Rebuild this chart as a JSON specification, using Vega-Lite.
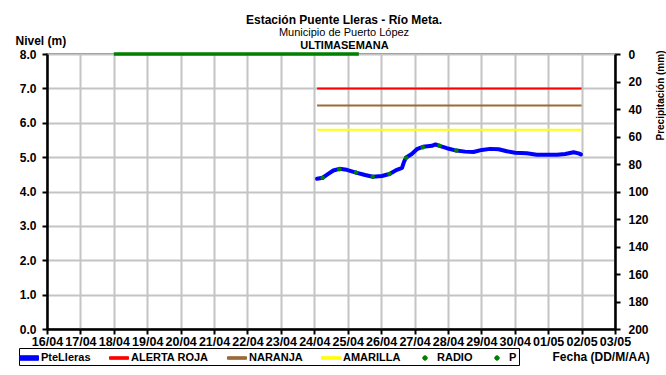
{
  "$schema": "https://vega.github.io/schema/vega-lite/v6.json",
  "width": 568,
  "height": 275,
  "autosize": {"type": "none"},
  "padding": {"left": 47, "top": 54, "right": 51, "bottom": 46},
  "background": "white",
  "title": {
    "text": "Estación Puente Lleras - Río Meta.",
    "subtitle": "Municipio de Puerto López",
    "anchor": "middle",
    "dx": 13,
    "dy": 7,
    "font": "Liberation Sans",
    "subtitleFont": "Liberation Sans",
    "fontSize": 12,
    "fontWeight": "bold",
    "color": "black",
    "subtitleFontSize": 11,
    "subtitleColor": "black",
    "subtitlePadding": 0,
    "offset": 2
  },
  "data": {
    "values": [
      {"s": "PteLleras", "t": "2014-04-24T02:00", "v": 4.37},
      {"s": "PteLleras", "t": "2014-04-24T06:00", "v": 4.40},
      {"s": "PteLleras", "t": "2014-04-24T10:00", "v": 4.51},
      {"s": "PteLleras", "t": "2014-04-24T13:40", "v": 4.61},
      {"s": "PteLleras", "t": "2014-04-24T18:00", "v": 4.66},
      {"s": "PteLleras", "t": "2014-04-24T23:20", "v": 4.63},
      {"s": "PteLleras", "t": "2014-04-25T06:00", "v": 4.55},
      {"s": "PteLleras", "t": "2014-04-25T12:30", "v": 4.48},
      {"s": "PteLleras", "t": "2014-04-25T18:00", "v": 4.43},
      {"s": "PteLleras", "t": "2014-04-26T00:30", "v": 4.45},
      {"s": "PteLleras", "t": "2014-04-26T06:00", "v": 4.51},
      {"s": "PteLleras", "t": "2014-04-26T11:20", "v": 4.63},
      {"s": "PteLleras", "t": "2014-04-26T15:00", "v": 4.69},
      {"s": "PteLleras", "t": "2014-04-26T16:30", "v": 4.87},
      {"s": "PteLleras", "t": "2014-04-26T18:00", "v": 4.99},
      {"s": "PteLleras", "t": "2014-04-26T22:00", "v": 5.09},
      {"s": "PteLleras", "t": "2014-04-27T01:40", "v": 5.23},
      {"s": "PteLleras", "t": "2014-04-27T06:00", "v": 5.30},
      {"s": "PteLleras", "t": "2014-04-27T12:30", "v": 5.33},
      {"s": "PteLleras", "t": "2014-04-27T15:00", "v": 5.37},
      {"s": "PteLleras", "t": "2014-04-27T18:30", "v": 5.32},
      {"s": "PteLleras", "t": "2014-04-27T23:15", "v": 5.26},
      {"s": "PteLleras", "t": "2014-04-28T06:00", "v": 5.19},
      {"s": "PteLleras", "t": "2014-04-28T12:20", "v": 5.16},
      {"s": "PteLleras", "t": "2014-04-28T18:20", "v": 5.15},
      {"s": "PteLleras", "t": "2014-04-29T00:15", "v": 5.21},
      {"s": "PteLleras", "t": "2014-04-29T06:20", "v": 5.24},
      {"s": "PteLleras", "t": "2014-04-29T12:20", "v": 5.23},
      {"s": "PteLleras", "t": "2014-04-29T18:20", "v": 5.17},
      {"s": "PteLleras", "t": "2014-04-30T00:15", "v": 5.13},
      {"s": "PteLleras", "t": "2014-04-30T08:40", "v": 5.11},
      {"s": "PteLleras", "t": "2014-04-30T15:50", "v": 5.07},
      {"s": "PteLleras", "t": "2014-04-30T23:00", "v": 5.07},
      {"s": "PteLleras", "t": "2014-05-01T06:20", "v": 5.07},
      {"s": "PteLleras", "t": "2014-05-01T12:15", "v": 5.09},
      {"s": "PteLleras", "t": "2014-05-01T18:15", "v": 5.14},
      {"s": "PteLleras", "t": "2014-05-01T21:50", "v": 5.11},
      {"s": "PteLleras", "t": "2014-05-01T23:30", "v": 5.08},
      {"s": "ALERTA ROJA", "t": "2014-04-24T02:00", "v": 7.0},
      {"s": "ALERTA ROJA", "t": "2014-05-02T00:00", "v": 7.0},
      {"s": "NARANJA", "t": "2014-04-24T02:00", "v": 6.5},
      {"s": "NARANJA", "t": "2014-05-02T00:00", "v": 6.5},
      {"s": "AMARILLA", "t": "2014-04-24T02:00", "v": 5.8},
      {"s": "AMARILLA", "t": "2014-05-02T00:00", "v": 5.8},
      {"s": "RADIO", "t": "2014-04-24T06:00", "v": 4.40},
      {"s": "RADIO", "t": "2014-04-24T18:00", "v": 4.65},
      {"s": "RADIO", "t": "2014-04-25T06:00", "v": 4.55},
      {"s": "RADIO", "t": "2014-04-25T18:00", "v": 4.43},
      {"s": "RADIO", "t": "2014-04-26T06:00", "v": 4.51},
      {"s": "RADIO", "t": "2014-04-26T18:00", "v": 4.98},
      {"s": "RADIO", "t": "2014-04-27T06:00", "v": 5.29},
      {"s": "RADIO", "t": "2014-04-27T18:00", "v": 5.33},
      {"s": "RADIO", "t": "2014-04-28T06:00", "v": 5.19},
      {"s": "P", "t": "2014-04-18T00:00", "v": 0},
      {"s": "P", "t": "2014-04-19T00:00", "v": 0},
      {"s": "P", "t": "2014-04-20T00:00", "v": 0},
      {"s": "P", "t": "2014-04-21T00:00", "v": 0},
      {"s": "P", "t": "2014-04-22T00:00", "v": 0},
      {"s": "P", "t": "2014-04-23T00:00", "v": 0},
      {"s": "P", "t": "2014-04-24T00:00", "v": 0},
      {"s": "P", "t": "2014-04-25T00:00", "v": 0},
      {"s": "P", "t": "2014-04-25T08:00", "v": 0}
    ]
  },
  "layer": [
    {
      "encoding": {
        "x": {
          "field": "t",
          "type": "temporal",
          "scale": {"domain": [{"year": 2014, "month": 4, "date": 16}, {"year": 2014, "month": 5, "date": 3}]},
          "axis": {
            "format": "%d/%m",
            "tickCount": {"interval": "day", "step": 1},
            "labelOverlap": false,
            "labelFlush": false,
            "labelBound": false,
            "labelAngle": 0,
            "labelPadding": 1,
            "labelFontSize": 12.5,
            "grid": true,
            "title": "Fecha (DD/M/AA)",
            "titleX": 505,
            "titleY": 31,
            "titleAlign": "left",
            "titleBaseline": "alphabetic"
          }
        },
        "y": {
          "field": "v",
          "type": "quantitative",
          "scale": {"domain": [0, 8]},
          "axis": {
            "values": [0, 1, 2, 3, 4, 5, 6, 7, 8],
            "format": ".1f",
            "labelPadding": 6,
            "grid": true,
            "title": "Nivel (m)",
            "titleAngle": 0,
            "titleX": -32,
            "titleY": -10,
            "titleAlign": "left",
            "titleBaseline": "alphabetic"
          }
        }
      },
      "layer": [
        {
          "transform": [{"filter": {"field": "s", "oneOf": ["ALERTA ROJA", "NARANJA", "AMARILLA"]}}],
          "mark": {"type": "line", "strokeWidth": 2},
          "encoding": {
            "color": {"field": "s", "type": "nominal",
              "scale": {"domain": ["PteLleras", "ALERTA ROJA", "NARANJA", "AMARILLA", "RADIO", "P"], "range": ["#0000ff", "#ff0000", "#9b6a38", "#ffff00", "#008000", "#008000"]},
              "legend": {"title": null, "orient": "none", "legendX": -28, "legendY": 294, "direction": "horizontal", "columns": 6}}
          }
        },
        {
          "transform": [{"filter": "datum.s == 'PteLleras'"}],
          "mark": {"type": "line", "strokeWidth": 4, "strokeCap": "round", "strokeJoin": "round"},
          "encoding": {
            "color": {"field": "s", "type": "nominal",
              "scale": {"domain": ["PteLleras", "ALERTA ROJA", "NARANJA", "AMARILLA", "RADIO", "P"], "range": ["#0000ff", "#ff0000", "#9b6a38", "#ffff00", "#008000", "#008000"]},
              "legend": {"title": null, "orient": "none", "legendX": -28, "legendY": 294, "direction": "horizontal", "columns": 6}}
          }
        },
        {
          "transform": [{"filter": "datum.s == 'RADIO'"}],
          "mark": {"type": "point", "filled": true, "opacity": 1, "size": 225, "strokeWidth": 0},
          "encoding": {
            "color": {"field": "s", "type": "nominal",
              "scale": {"domain": ["PteLleras", "ALERTA ROJA", "NARANJA", "AMARILLA", "RADIO", "P"], "range": ["#0000ff", "#ff0000", "#9b6a38", "#ffff00", "#008000", "#008000"]},
              "legend": {"title": null, "orient": "none", "legendX": -28, "legendY": 294, "direction": "horizontal", "columns": 6}},
            "shape": {"field": "s", "type": "nominal",
              "scale": {"domain": ["PteLleras", "ALERTA ROJA", "NARANJA", "AMARILLA", "RADIO", "P"],
                "range": ["M-1.27,-0.3H1.27V0.3H-1.27Z", "M-1.27,-0.17H1.27V0.17H-1.27Z", "M-1.27,-0.17H1.27V0.17H-1.27Z", "M-1.27,-0.17H1.27V0.17H-1.27Z", "M0,-0.3A0.3,0.3,0,1,1,0,0.3A0.3,0.3,0,1,1,0,-0.3Z", "M0,-0.3A0.3,0.3,0,1,1,0,0.3A0.3,0.3,0,1,1,0,-0.3Z"]},
              "legend": {"title": null, "orient": "none", "legendX": -28, "legendY": 294, "direction": "horizontal", "columns": 6}}
          }
        }
      ]
    },
    {
      "transform": [{"filter": "datum.s == 'P'"}],
      "mark": {"type": "line", "strokeWidth": 3.5},
      "encoding": {
        "x": {
          "field": "t",
          "type": "temporal",
          "scale": {"domain": [{"year": 2014, "month": 4, "date": 16}, {"year": 2014, "month": 5, "date": 3}]},
          "axis": {
            "orient": "top",
            "labels": false,
            "ticks": false,
            "domain": false,
            "grid": false,
            "title": "ULTIMASEMANA",
            "titleFontSize": 11,
            "titleX": 297,
            "titleY": -6,
            "titleAlign": "center",
            "titleBaseline": "alphabetic"
          }
        },
        "y": {
          "field": "v",
          "type": "quantitative",
          "scale": {"domain": [0, 200], "reverse": true},
          "axis": {
            "orient": "right",
            "values": [0, 20, 40, 60, 80, 100, 120, 140, 160, 180, 200],
            "format": "d",
            "grid": false,
            "labelPadding": 8,
            "title": "Precipitación (mm)",
            "titleAngle": 270,
            "titleFontSize": 10,
            "titleX": 45,
            "titleY": -4,
            "titleAlign": "right",
            "titleBaseline": "middle"
          }
        },
        "color": {"field": "s", "type": "nominal",
          "scale": {"domain": ["PteLleras", "ALERTA ROJA", "NARANJA", "AMARILLA", "RADIO", "P"], "range": ["#0000ff", "#ff0000", "#9b6a38", "#ffff00", "#008000", "#008000"]},
          "legend": {"title": null, "orient": "none", "legendX": -28, "legendY": 294, "direction": "horizontal", "columns": 6}}
      }
    }
  ],
  "resolve": {"scale": {"y": "independent"}, "axis": {"x": "independent"}},
  "config": {
    "font": "Liberation Sans",
    "view": {"stroke": "#808080", "strokeWidth": 2},
    "axis": {
      "labelFont": "Liberation Sans",
      "titleFont": "Liberation Sans",
      "labelColor": "black",
      "titleColor": "black",
      "labelFontWeight": "bold",
      "labelFontSize": 12,
      "titleFontWeight": "bold",
      "titleFontSize": 12,
      "domainColor": "black",
      "domainWidth": 2.5,
      "tickColor": "black",
      "tickWidth": 2,
      "tickSize": 5,
      "gridColor": "#c4c4c4",
      "gridWidth": 2
    },
    "legend": {
      "strokeColor": "black",
      "padding": 2,
      "labelFont": "Liberation Sans",
      "labelFontSize": 11,
      "labelFontWeight": "bold",
      "labelColor": "black",
      "symbolSize": 225,
      "symbolStrokeWidth": 1,
      "symbolOpacity": 1,
      "labelOffset": 4,
      "columnPadding": 16
    }
  }
}
